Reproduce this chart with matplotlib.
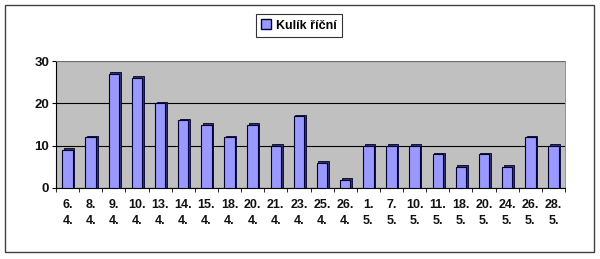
import matplotlib
matplotlib.use("Agg")
import matplotlib.pyplot as plt
from matplotlib.patches import Rectangle, Patch
import numpy as np

categories = ["6.\n4.", "8.\n4.", "9.\n4.", "10.\n4.", "13.\n4.", "14.\n4.", "15.\n4.",
              "18.\n4.", "20.\n4.", "21.\n4.", "23.\n4.", "25.\n4.", "26.\n4.", "1.\n5.",
              "7.\n5.", "10.\n5.", "11.\n5.", "18.\n5.", "20.\n5.", "24.\n5.", "26.\n5.", "28.\n5."]
values = [9, 12, 27, 26, 20, 16, 15, 12, 15, 10, 17, 6, 2, 10, 10, 10, 8, 5, 8, 5, 12, 10]
series_name = "Kulík říční"

plt.rcParams["font.family"] = ["Liberation Sans", "DejaVu Sans"]

fig = plt.figure(figsize=(6.0, 2.59), dpi=100)
fig.patch.set_facecolor("white")
# outer frame
fig.patches.append(Rectangle((5/600, 1-252/259), 589/600, 247/259, transform=fig.transFigure,
                             fill=False, edgecolor="#404040", linewidth=1.0))

ax = fig.add_axes([56/600, 1-188/259, 509/600, 127/259])
ax.set_facecolor("#c0c0c0")
x = np.arange(len(values))
bw = 0.45
# 3D-like depth shading
ax.bar(x + 0.07, np.array(values) + 0.35, width=bw, bottom=0, color="#333366", edgecolor="#000033",
       linewidth=0.6, zorder=2)
ax.bar(x, values, width=bw, color="#9999ff", edgecolor="#000033", linewidth=0.8, zorder=3)

ax.set_xlim(-0.5, len(values) - 0.5)
ax.set_ylim(0, 30)
ax.set_yticks([0, 10, 20, 30])
ax.set_yticklabels(["0", "10", "20", "30"], fontsize=9.5, fontweight="bold", color="#111111")
ax.yaxis.grid(True, color="#000000", linewidth=0.8, zorder=1)
ax.set_axisbelow(True)
ax.set_xticks(x)
ax.set_xticklabels(categories, fontsize=9, fontweight="bold", linespacing=1.45, color="#111111")
ax.set_xticks(np.arange(-0.5, len(values)), minor=True)
ax.tick_params(axis="x", which="major", length=0, pad=8)
ax.tick_params(axis="x", which="minor", length=3, direction="out")
ax.tick_params(axis="y", length=3, direction="out", pad=2)
for side in ["top", "right"]:
    ax.spines[side].set_color("#808080")
    ax.spines[side].set_linewidth(0.6)
ax.spines["left"].set_color("#000000")
ax.spines["bottom"].set_color("#000000")

leg = fig.legend(handles=[Patch(facecolor="#9999ff", edgecolor="#000033", label=series_name)],
                 loc="center", bbox_to_anchor=(299/600, 1-25.5/259),
                 prop={"weight": "bold", "size": 9}, frameon=True, fancybox=False,
                 handlelength=0.8, handleheight=0.8, handletextpad=0.4, borderpad=0.4)
leg.get_frame().set_edgecolor("#000000")
leg.get_frame().set_linewidth(0.8)

fig.savefig("out.png", dpi=100, facecolor="white")
